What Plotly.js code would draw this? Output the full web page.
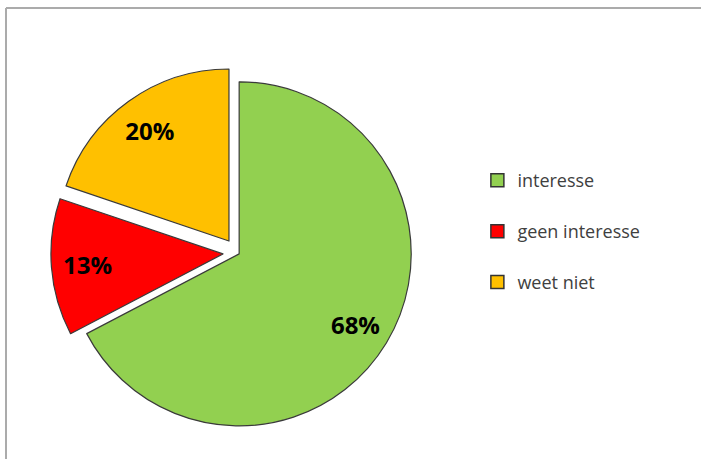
<!DOCTYPE html>
<html>
<head>
<meta charset="utf-8">
<script src="https://cdn.plot.ly/plotly-3.0.1.min.js"></script>
<style>
html,body{margin:0;padding:0;background:#fff;}
#chart{width:701px;height:459px;}
</style>
</head>
<body>
<div id="chart"></div>
<script>
// Data
var categories = ["interesse", "geen interesse", "weet niet"];
var values = [68, 13, 20];
var colors = ["#92D050", "#FF0000", "#FFC000"];
var pulls = [0.012, 0.084, 0.084];

var pieDomain = {x: [0.0726, 0.6047], y: [0.0429, 0.8556]};

// Slices
var pieTrace = {
  type: "pie",
  labels: categories,
  values: values,
  sort: false,
  direction: "clockwise",
  rotation: 0,
  pull: pulls,
  marker: {colors: colors, line: {color: "#3a3a3a", width: 1.2}},
  textinfo: "none",
  hoverinfo: "label+value",
  showlegend: false,
  domain: pieDomain
};

// Same data again as a transparent ring, only to place the labels near the outer edge
var labelTrace = {
  type: "pie",
  labels: categories,
  values: values,
  sort: false,
  direction: "clockwise",
  rotation: 0,
  pull: pulls,
  hole: 0.58,
  marker: {colors: ["rgba(0,0,0,0)", "rgba(0,0,0,0)", "rgba(0,0,0,0)"], line: {width: 0}},
  texttemplate: "%{value}%",
  textposition: "inside",
  insidetextorientation: "horizontal",
  textfont: {family: "Open Sans", size: 24, color: "#000", weight: "bold"},
  hoverinfo: "skip",
  showlegend: false,
  domain: pieDomain
};

// Legend entries built from the same arrays
var legendTraces = categories.map(function (c, i) {
  return {
    type: "scatter",
    mode: "markers",
    x: [null],
    y: [null],
    name: c,
    legendgroup: "g" + i,
    marker: {symbol: "square", size: 13, color: colors[i], line: {color: "#333", width: 1.5}},
    hoverinfo: "skip"
  };
});

var layout = {
  width: 701,
  height: 459,
  margin: {l: 0, r: 0, t: 0, b: 0},
  paper_bgcolor: "#fff",
  plot_bgcolor: "#fff",
  xaxis: {visible: false},
  yaxis: {visible: false},
  showlegend: true,
  legend: {
    x: 0.681, y: 0.647, xanchor: "left", yanchor: "top",
    traceorder: "grouped",
    tracegroupgap: 24.5,
    font: {family: "Open Sans", size: 18, color: "#404040"},
    bgcolor: "rgba(0,0,0,0)"
  },
  shapes: [
    {type: "line", xref: "paper", yref: "paper", x0: 6/701, x1: 1.02, y0: 1 - 8/459, y1: 1 - 8/459,
     line: {color: "#ababab", width: 2}},
    {type: "line", xref: "paper", yref: "paper", x0: 6/701, x1: 6/701, y0: -0.02, y1: 1 - 8/459,
     line: {color: "#ababab", width: 2}}
  ]
};

Plotly.newPlot("chart", [pieTrace, labelTrace].concat(legendTraces), layout, {displayModeBar: false, staticPlot: true});
</script>
</body>
</html>
